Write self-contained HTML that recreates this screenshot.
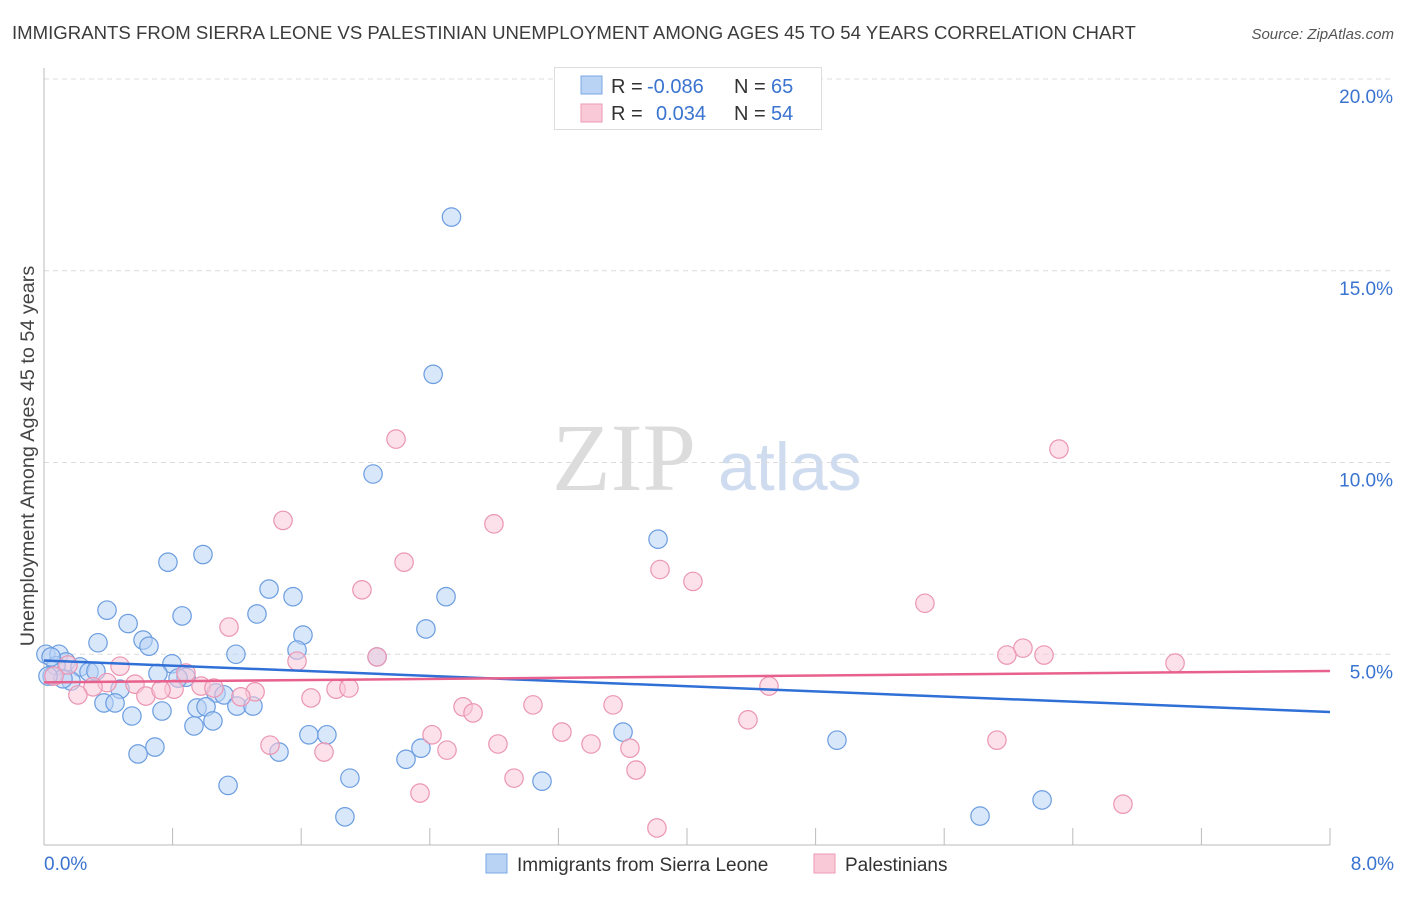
<!DOCTYPE html>
<html><head><meta charset="utf-8"><style>
body{margin:0;background:#fff;font-family:"Liberation Sans",sans-serif;}
svg text{font-family:"Liberation Sans",sans-serif;}
</style></head><body>
<svg id="chart" width="1406" height="892" xmlns="http://www.w3.org/2000/svg">
<text x="12" y="39" font-size="18.6" fill="#3c3c3c">IMMIGRANTS FROM SIERRA LEONE VS PALESTINIAN UNEMPLOYMENT AMONG AGES 45 TO 54 YEARS CORRELATION CHART</text>
<text x="1394" y="39" font-size="15" fill="#555" font-style="italic" text-anchor="end">Source: ZipAtlas.com</text>
<text x="552" y="490" font-size="96" fill="#dcdcdc" font-family="Liberation Serif" style="font-family:'Liberation Serif',serif">ZIP</text>
<text x="718" y="490" font-size="68" fill="#cfdcef">atlas</text>
<text transform="translate(34,456) rotate(-90)" font-size="19.8" fill="#444" text-anchor="middle">Unemployment Among Ages 45 to 54 years</text>
<g id="grid"></g><g id="axes"></g><g id="pts"></g><g id="lines"></g>
<g>
<rect x="554.5" y="67.5" width="267" height="62" fill="#fff" stroke="#ddd"/>
<rect x="581" y="76" width="21" height="18" fill="#b9d3f5" stroke="#7aa7e6"/>
<rect x="581" y="104" width="21" height="18" fill="#f9c9d8" stroke="#ee9ab6"/>
<text x="611" y="93" font-size="20" fill="#333">R = </text><text x="647" y="93" font-size="20" fill="#3a74d0">-0.086</text>
<text x="734" y="93" font-size="20" fill="#333">N = </text><text x="771" y="93" font-size="20" fill="#3a74d0">65</text>
<text x="611" y="120" font-size="20" fill="#333">R = </text><text x="656" y="120" font-size="20" fill="#3a74d0">0.034</text>
<text x="734" y="120" font-size="20" fill="#333">N = </text><text x="771" y="120" font-size="20" fill="#3a74d0">54</text>
</g>
<g>
<rect x="486" y="854" width="21" height="19" fill="#b9d3f5" stroke="#7aa7e6"/>
<text x="517" y="871" font-size="19" fill="#333">Immigrants from Sierra Leone</text>
<rect x="814" y="854" width="21" height="19" fill="#f9c9d8" stroke="#ee9ab6"/>
<text x="845" y="871" font-size="19" fill="#333">Palestinians</text>
</g>
</svg>
<script>
const yTicks=[5,10,15,20];
const xTickLabels=["0.0%","8.0%"];
const blueX=[2.535,2.421,2.047,3.82,0.771,0.989,1.4,1.549,0.392,0.859,2.501,1.325,0.523,2.376,0.336,1.611,0.616,0.653,1.194,1.574,2.072,0.012,0.093,0.137,0.224,0.28,0.796,0.709,0.883,0.834,0.05,0.168,0.473,1.07,1.12,0.952,1.008,1.2,1.3,0.373,0.442,0.734,0.547,1.051,0.933,1.648,1.76,3.602,0.69,1.462,4.933,2.345,0.585,2.252,1.903,3.098,1.145,1.872,5.823,6.209,0.075,0.323,0.044,0.118,0.025];
const blueY=[16.4,12.3,9.7,8.0,7.4,7.6,6.7,6.5,6.15,6.0,6.5,6.05,5.8,5.66,5.3,5.5,5.37,5.21,5.0,5.11,4.93,5.0,5.0,4.8,4.67,4.54,4.75,4.5,4.4,4.38,4.43,4.3,4.09,3.99,3.94,3.6,3.63,3.65,3.65,3.73,3.73,3.52,3.39,3.26,3.13,2.9,2.9,2.97,2.58,2.45,2.76,2.55,2.4,2.26,1.77,1.69,1.58,0.76,0.78,1.2,4.7,4.56,4.93,4.36,4.43];
const pinkX=[2.19,6.314,1.487,2.799,2.24,3.832,4.037,1.978,5.48,1.151,6.09,5.99,6.221,7.036,1.574,2.072,0.473,0.149,0.883,0.392,0.305,0.566,0.809,0.977,1.057,1.313,1.225,0.634,0.728,0.211,1.661,1.817,1.897,4.51,2.607,2.669,3.042,3.54,4.379,2.414,3.222,1.406,1.742,2.507,2.824,3.403,3.645,5.928,2.924,3.683,2.339,6.712,3.813,0.062];
const pinkY=[10.61,10.35,8.49,8.4,7.4,7.21,6.9,6.68,6.33,5.71,5.16,4.98,4.98,4.77,4.82,4.93,4.69,4.72,4.51,4.26,4.15,4.22,4.09,4.17,4.12,4.02,3.89,3.91,4.07,3.94,3.86,4.09,4.12,4.17,3.63,3.47,3.68,3.68,3.29,2.9,2.97,2.63,2.45,2.5,2.66,2.66,2.55,2.76,1.77,1.98,1.38,1.09,0.47,4.43];
const NS="http://www.w3.org/2000/svg";
const X0=44,X1=1330,Y0=846,PXY=38.35;
function sx(v){return X0+(X1-X0)*v/8;}
function sy(v){return Y0-v*PXY;}
function mk(tag,attrs,parent){const e=document.createElementNS(NS,tag);for(const k in attrs)e.setAttribute(k,attrs[k]);parent.appendChild(e);return e;}
const grid=document.getElementById('grid'),axes=document.getElementById('axes'),pts=document.getElementById('pts'),lines=document.getElementById('lines');
yTicks.forEach(t=>{
 const l=mk('line',{x1:X0,x2:1394,y1:sy(t),y2:sy(t),stroke:'#dcdcdc','stroke-dasharray':'5,4'},grid);
 
 
 const tx=mk('text',{x:1393,y:sy(t)+24,'font-size':19,fill:'#3a74d0','text-anchor':'end'},grid);
 tx.textContent=t.toFixed(1)+'%';
 
 
});
const ya=mk('line',{x1:X0,x2:X0,y1:68,y2:845,stroke:'#bbb'},axes);


const xa=mk('line',{x1:X0,x2:X1,y1:845,y2:845,stroke:'#bbb'},axes);


for(let i=0;i<=10;i++){
 const t=mk('line',{x1:sx(i*0.8),x2:sx(i*0.8),y1:828,y2:845,stroke:'#bbb'},axes);
 
 
}
[[0,44,'start'],[8,1394,'end']].forEach((d,i)=>{
 const t=mk('text',{x:d[1],y:870,'font-size':19,fill:'#3a74d0','text-anchor':d[2]},axes);
 t.textContent=xTickLabels[i];
 
 
});
function series(xs,ys,fill,stroke,name){
 xs.forEach((x,i)=>{
  const c=mk('circle',{cx:sx(x),cy:sy(ys[i]),r:9.2,fill:fill,'fill-opacity':0.55,stroke:stroke,'stroke-width':1.2},pts);
  
  
 });
}
function fit(xs,ys){const n=xs.length;let mx=0,my=0;xs.forEach((x,i)=>{mx+=x;my+=ys[i];});mx/=n;my/=n;let sxy=0,sxx=0;xs.forEach((x,i)=>{sxy+=(x-mx)*(ys[i]-my);sxx+=(x-mx)*(x-mx);});const b=sxy/sxx;return [my-b*mx,b];}
series(blueX,blueY,'#b9d3f5','#6b9de0','sierra-leone');
series(pinkX,pinkY,'#f9c9d8','#eb95b2','palestinian');
[[blueX,blueY,'#2f6fd6','sierra-leone-trendline'],[pinkX,pinkY,'#e8608c','palestinian-trendline']].forEach(d=>{
 const [a,b]=fit(d[0],d[1]);
 const l=mk('line',{x1:sx(0),y1:sy(a),x2:sx(8),y2:sy(a+8*b),stroke:d[2],'stroke-width':2.5},lines);
 
 
});
</script>
</body></html>
